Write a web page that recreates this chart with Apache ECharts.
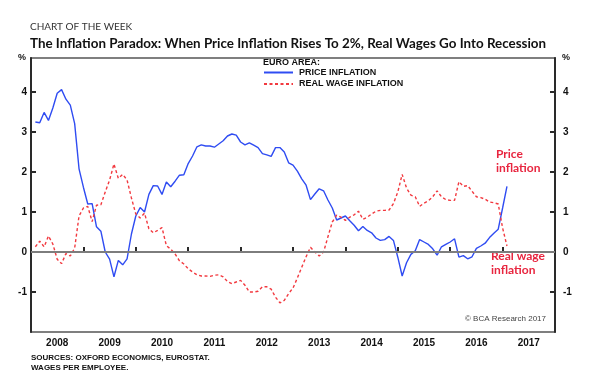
<!DOCTYPE html>
<html>
<head>
<meta charset="utf-8">
<script src="https://cdn.jsdelivr.net/npm/echarts@6/dist/echarts.min.js"></script>
<style>html,body{margin:0;padding:0;background:#fff;}#c{width:590px;height:385px;}</style>
</head>
<body>
<div id="c"></div>
<script>
// Year labels (category axis, one per calendar year)
const years = ['2008','2009','2010','2011','2012','2013','2014','2015','2016','2017'];
// Monthly observations; first value = Feb 2008 (month index 1 from Jan 2008)
const firstMonth = 1;
const priceInflation = [
  3.25,3.23,3.49,3.29,3.6,3.97,4.06,3.82,3.67,3.21,
  2.08,1.62,1.2,1.21,0.63,0.52,0.0,-0.18,-0.62,-0.21,
  -0.32,-0.17,0.45,0.9,1.11,1.0,1.44,1.66,1.65,1.44,
  1.75,1.63,1.77,1.92,1.93,2.21,2.4,2.63,2.68,2.65,
  2.65,2.62,2.70,2.78,2.9,2.95,2.92,2.75,2.68,2.73,
  2.67,2.61,2.46,2.43,2.39,2.61,2.61,2.5,2.23,2.17,
  2.02,1.83,1.67,1.31,1.45,1.58,1.53,1.3,1.1,0.8,
  0.85,0.9,0.78,0.67,0.53,0.64,0.54,0.48,0.35,0.29,
  0.31,0.39,0.29,-0.13,-0.6,-0.27,-0.06,0.03,0.31,0.25,
  0.19,0.08,-0.08,0.13,0.19,0.25,0.33,-0.13,-0.09,-0.17,
  -0.12,0.09,0.15,0.22,0.36,0.47,0.57,1.1,1.64
];
const realWageInflation = [
  0.13,0.27,0.13,0.4,0.2,-0.18,-0.29,-0.04,-0.1,0.1,
  0.9,1.1,1.14,0.76,1.17,1.18,1.5,1.8,2.2,1.84,
  1.94,1.8,1.35,0.95,0.85,0.97,0.58,0.48,0.54,0.61,
  0.16,0.07,-0.05,-0.22,-0.3,-0.42,-0.5,-0.57,-0.6,-0.6,
  -0.61,-0.58,-0.57,-0.62,-0.74,-0.79,-0.75,-0.71,-0.83,-1.0,
  -1.0,-0.98,-0.87,-0.87,-0.93,-1.13,-1.27,-1.21,-1.04,-0.9,
  -0.65,-0.38,-0.12,0.12,0.0,-0.1,0.0,0.38,0.75,0.92,
  0.87,0.79,0.87,0.93,1.02,0.82,0.87,0.95,1.02,1.04,
  1.04,1.05,1.21,1.5,1.94,1.6,1.42,1.38,1.14,1.22,
  1.28,1.38,1.53,1.38,1.31,1.29,1.29,1.76,1.64,1.66,
  1.52,1.38,1.36,1.32,1.25,1.23,1.2,0.6,0.15
];
const yTickLabels = [-1,0,1,2,3,4];
const seriesNames = ['PRICE INFLATION','REAL WAGE INFLATION'];

const toPairs = arr => arr.map((v,i) => [firstMonth + i, v]);
const blue = '#2f4cf2', red = '#f2393f', annotRed = '#e8253f';
const axisFont = {fontFamily:'Liberation Sans', fontWeight:'bold', fontSize:10, color:'#111'};

const yAxisBase = pos => ({
  type:'value', position:pos, min:-2, max:4.85, interval:1,
  axisLine:{show:true, lineStyle:{color:'#2a2a2a', width:2}},
  axisTick:{show:true, inside:true, length:5, lineStyle:{color:'#2a2a2a', width:2}},
  splitLine:{show:false},
  axisLabel:{...axisFont, margin: pos==='left'?4:8, showMaxLabel:false, showMinLabel:false,
    formatter: v => yTickLabels.indexOf(Math.round(v*100)/100) >= 0 ? String(v) : ''}
});

const chart = echarts.init(document.getElementById('c'), null, {renderer:'canvas'});
chart.setOption({
  animation:false,
  backgroundColor:'#fff',
  grid:{left:31, right:35, top:58, bottom:53, show:true, borderColor:'#555', borderWidth:1.5, backgroundColor:'transparent'},
  xAxis:[
    {type:'category', data:years, boundaryGap:true, position:'bottom',
     axisLine:{show:true, lineStyle:{color:'#2a2a2a', width:2}},
     axisTick:{show:true, inside:true, length:5, alignWithLabel:false, lineStyle:{color:'#2a2a2a', width:2}},
     axisLabel:{...axisFont, margin:6}, splitLine:{show:false}},
    {type:'value', min:0, max:120, show:false}
  ],
  yAxis:[yAxisBase('left'), yAxisBase('right')],
  legend:{
    orient:'vertical', left:263, top:68, padding:0, itemWidth:29, itemHeight:8, itemGap:2.5,
    data:seriesNames, itemStyle:{opacity:0},
    textStyle:{fontFamily:'Liberation Sans', fontWeight:'bold', fontSize:9, color:'#111', padding:[0,0,0,1]}
  },
  series:[
    {name:seriesNames[0], type:'line', xAxisIndex:1, yAxisIndex:0, data:toPairs(priceInflation),
     showSymbol:false, symbol:'none', lineStyle:{color:blue, width:1.4}, itemStyle:{color:blue}, z:3,
     markLine:{silent:true, symbol:'none', label:{show:false},
       lineStyle:{color:'#7d7d7d', width:2, type:'solid'}, data:[{yAxis:0}]}},
    {name:seriesNames[1], type:'line', xAxisIndex:1, yAxisIndex:0, data:toPairs(realWageInflation),
     showSymbol:false, symbol:'none', lineStyle:{color:red, width:1.4, type:[3,2.5]}, itemStyle:{color:red}, z:4}
  ],
  graphic:[
    {type:'text', x:30, y:27, style:{text:'CHART OF THE WEEK', font:'10px Lato', fill:'#333', textVerticalAlign:'middle'}},
    {type:'text', x:30, y:44, style:{text:'The Inflation Paradox: When Price Inflation Rises To 2%, Real Wages Go Into Recession', font:'bold 13.4px Lato', fill:'#111', textVerticalAlign:'middle'}},
    {type:'text', x:22, y:58, style:{text:'%', font:'bold 9px "Liberation Sans"', fill:'#111', textAlign:'center', textVerticalAlign:'middle'}},
    {type:'text', x:566, y:58, style:{text:'%', font:'bold 9px "Liberation Sans"', fill:'#111', textAlign:'center', textVerticalAlign:'middle'}},
    {type:'text', x:263, y:63, style:{text:'EURO AREA:', font:'bold 9px "Liberation Sans"', fill:'#111', textVerticalAlign:'middle'}},
    {type:'text', x:496, y:161, style:{text:'Price\ninflation', font:'bold 12px Lato', fill:annotRed, textVerticalAlign:'middle', lineHeight:13.5}},
    {type:'text', x:491, y:263, style:{text:'Real wage\ninflation', font:'bold 12px Lato', fill:annotRed, textVerticalAlign:'middle', lineHeight:13.5}},
    {type:'text', x:546, y:319, style:{text:'\u00a9 BCA Research 2017', font:'8px "Liberation Sans"', fill:'#444', textAlign:'right', textVerticalAlign:'middle'}},
    {type:'text', x:31, y:358, style:{text:'SOURCES: OXFORD ECONOMICS, EUROSTAT.', font:'bold 8px "Liberation Sans"', fill:'#111', textVerticalAlign:'middle'}},
    {type:'text', x:31, y:368, style:{text:'WAGES PER EMPLOYEE.', font:'bold 8px "Liberation Sans"', fill:'#111', textVerticalAlign:'middle'}}
  ]
});
</script>
</body>
</html>
